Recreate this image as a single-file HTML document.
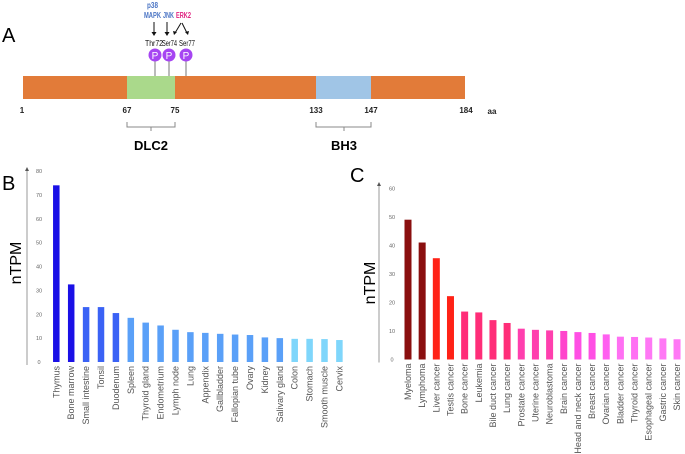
<!DOCTYPE html>
<html><head><meta charset="utf-8"><style>
body{margin:0;background:#fff;width:685px;height:454px;overflow:hidden;font-family:"Liberation Sans",sans-serif}
svg{display:block}
</style></head><body>
<svg id="fig" width="685" height="454" xmlns="http://www.w3.org/2000/svg">
<g>
<text x="2" y="42" font-size="20">A</text>
<rect x="23" y="76" width="442" height="23" fill="#e27b39"/>
<rect x="127" y="76" width="48" height="23" fill="#aad98b"/>
<rect x="316" y="76" width="55" height="23" fill="#a0c5e6"/>
<g font-size="8" font-weight="bold" text-anchor="middle" fill="#222">
<text x="22" y="113">1</text><text x="127" y="113">67</text><text x="175" y="113">75</text>
<text x="316" y="113">133</text><text x="371" y="113">147</text><text x="466" y="113">184</text><text x="492" y="114">aa</text></g>
<path d="M127,122v5h48v-5M151,127v4M316,122v5h55v-5M344,127v4" fill="none" stroke="#888" stroke-width="1"/>
<text x="151" y="150" font-size="13" font-weight="bold" text-anchor="middle">DLC2</text>
<text x="344" y="150" font-size="13" font-weight="bold" text-anchor="middle">BH3</text>
<g stroke="#777" stroke-width="1"><line x1="155" y1="60" x2="155" y2="76"/><line x1="169" y1="60" x2="169" y2="76"/><line x1="186" y1="60" x2="186" y2="76"/></g>
<g fill="#a645f2"><circle cx="155" cy="55" r="6.5"/><circle cx="169" cy="55" r="6.5"/><circle cx="186" cy="55" r="6.5"/></g>
<g fill="#fff" font-size="10" text-anchor="middle"><text x="155" y="59">P</text><text x="169" y="59">P</text><text x="186" y="59">P</text></g>
<g font-size="8" fill="#111"><text x="145" y="46" textLength="18" lengthAdjust="spacingAndGlyphs">Thr72</text><text x="162" y="46" textLength="15" lengthAdjust="spacingAndGlyphs">Ser74</text><text x="179" y="46" textLength="16" lengthAdjust="spacingAndGlyphs">Ser77</text></g>
<g font-size="8" font-weight="bold"><text x="147" y="8" fill="#4a74c4" textLength="11" lengthAdjust="spacingAndGlyphs">p38</text><text x="144" y="18" fill="#4a74c4" textLength="17" lengthAdjust="spacingAndGlyphs">MAPK</text><text x="163" y="18" fill="#4a74c4" textLength="11" lengthAdjust="spacingAndGlyphs">JNK</text><text x="176" y="18" fill="#e0207f" textLength="15" lengthAdjust="spacingAndGlyphs">ERK2</text></g>
<g stroke="#111" stroke-width="1" fill="none"><path d="M154,22v12M167,22v12M181,23l-6,10M182,23l5,10"/></g>
<g fill="#111"><path d="M151.5,32h5l-2.5,4z M164.5,32h5l-2.5,4z M173,31l4,1l-3,3z M185,32l4,-1l-1,4z"/></g>
</g>
<g id="chartB"></g>
<g id="chartC"></g>
</svg>
<script>
const tissueCats=["Thymus","Bone marrow","Small intestine","Tonsil","Duodenum","Spleen","Thyroid gland","Endometrium","Lymph node","Lung","Appendix","Gallbladder","Fallopian tube","Ovary","Kidney","Salivary gland","Colon","Stomach","Smooth muscle","Cervix"];
const tissueVals=[74,32.5,23,23,20.5,18.5,16.5,15.3,13.5,12.5,12.2,11.8,11.5,11.3,10.3,10,9.7,9.7,9.6,9.2];
const tissueColors=["#1a10e6","#1a10e6","#3a62f5","#3a62f5","#3a62f5","#5aa0f8","#5aa0f8","#5aa0f8","#5aa0f8","#5aa0f8","#5aa0f8","#5aa0f8","#5aa0f8","#5aa0f8","#5aa0f8","#5aa0f8","#7fd6fb","#7fd6fb","#7fd6fb","#7fd6fb"];
const tissueTicks=[0,10,20,30,40,50,60,70,80];
const cancerCats=["Myeloma","Lymphoma","Liver cancer","Testis cancer","Bone cancer","Leukemia","Bile duct cancer","Lung cancer","Prostate cancer","Uterine cancer","Neuroblastoma","Brain cancer","Head and neck cancer","Breast cancer","Ovarian cancer","Bladder cancer","Thyroid cancer","Esophageal cancer","Gastric cancer","Skin cancer"];
const cancerVals=[49,41,35.5,22.2,16.8,16.5,13.8,12.8,10.8,10.4,10.2,10,9.6,9.3,8.8,8,7.9,7.7,7.4,7.1];
const cancerColors=["#8a0f0f","#8a0f0f","#ff2216","#ff2216","#ff2d78","#ff2d78","#ff2d78","#ff2d78","#ff3fae","#ff3fae","#ff3fae","#ff44cc","#ff4fe4","#ff4fe4","#ff5ff0","#ff70f3","#ff70f3","#ff78f5","#ff78f5","#ff78f5"];
const cancerTicks=[0,10,20,30,40,50,60];
const NS="http://www.w3.org/2000/svg";
function mk(p,t,a){const e=document.createElementNS(NS,t);for(const k in a)e.setAttribute(k,a[k]);p.appendChild(e);return e;}
function draw(g,cfg,cats,vals,cols,ticks){
 const y=v=>cfg.y0-(v/cfg.max)*(cfg.y0-cfg.yTop);
 const x=i=>cfg.x0+i*cfg.step;
 const ax=mk(g,'line',{x1:cfg.ax,x2:cfg.ax,y1:cfg.axTop,y2:cfg.y0+3,stroke:'#999','stroke-width':1});
 
 
 mk(g,'path',{d:`M${cfg.ax-2},${cfg.axTop+3}L${cfg.ax},${cfg.axTop-1}L${cfg.ax+2},${cfg.axTop+3}Z`,fill:'#555'});
 ticks.forEach(t=>{const tx=mk(g,'text',{x:cfg.tickX,y:y(t)+2,'font-size':5.5,fill:'#666','text-anchor':'middle'});tx.textContent=t;
  
  });
 vals.forEach((v,i)=>{const r=mk(g,'rect',{x:x(i)-cfg.bw/2,y:y(v),width:cfg.bw,height:y(0)-y(v),fill:cols[i]});
  
  
  const t=mk(g,'text',{transform:`translate(${x(i)+3},${cfg.y0+4}) rotate(-90)`,'font-size':9,fill:'#555','text-anchor':'end'});t.textContent=cats[i];
  
  });
 const yt=mk(g,'text',{transform:`translate(${cfg.titleX},${cfg.titleY}) rotate(-90)`,'font-size':16,'text-anchor':'middle'});yt.textContent='nTPM';
 
 
 const pl=mk(g,'text',{x:cfg.labX,y:cfg.labY,'font-size':20});pl.textContent=cfg.lab;
 
 
}
draw(document.getElementById('chartB'),{y0:362,yTop:171,max:80,x0:56.3,step:14.9,bw:6.5,ax:27,axTop:168,tickX:39,titleX:21,titleY:263,labX:2,labY:190,lab:'B'},tissueCats,tissueVals,tissueColors,tissueTicks);
draw(document.getElementById('chartC'),{y0:359.5,yTop:188.3,max:60,x0:408,step:14.16,bw:7,ax:379,axTop:183,tickX:392,titleX:375,titleY:283,labX:350,labY:182,lab:'C'},cancerCats,cancerVals,cancerColors,cancerTicks);
</script>
</body></html>
